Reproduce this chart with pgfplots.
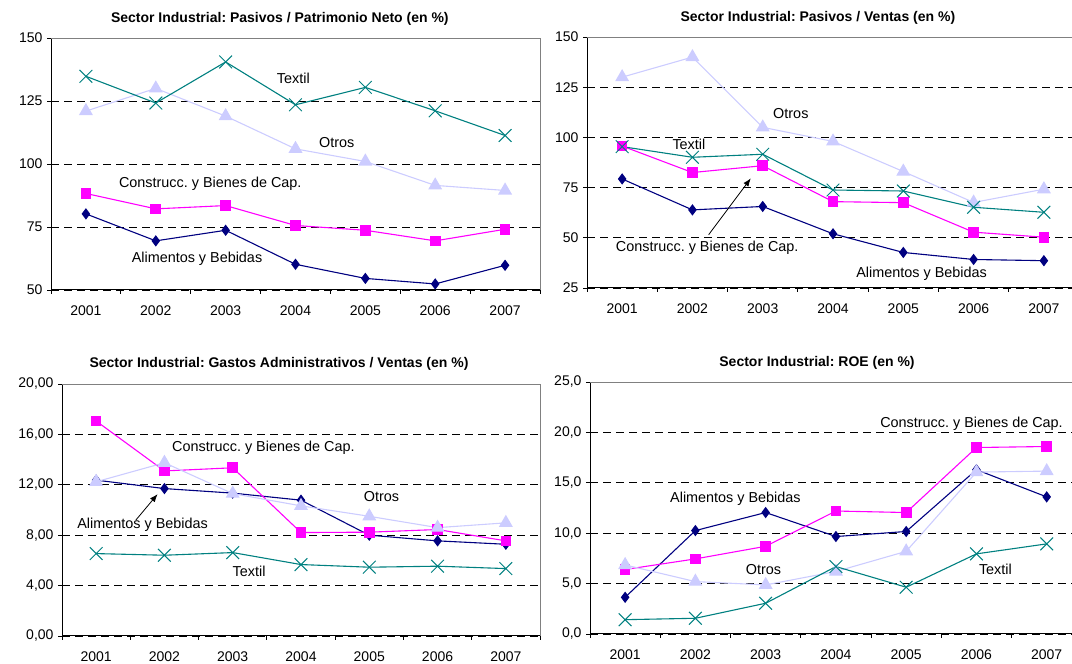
\documentclass[border=0pt]{standalone}
\usepackage{fontspec}
\setmainfont{Liberation Sans}
\usepackage{pgfplots}
\pgfplotsset{compat=1.18}
\usetikzlibrary{arrows.meta}
\frenchspacing
\definecolor{alimc}{RGB}{0,0,128}
\definecolor{consc}{RGB}{255,0,255}
\definecolor{otrosc}{RGB}{204,204,255}
\definecolor{textilc}{RGB}{0,128,128}
\tikzset{lab/.style={font=\fontsize{14.4}{16}\selectfont, text=black}}
\pgfplotsset{
 panel/.style={
  scale only axis, anchor=south west,
  xmin=0.5, xmax=7.5,
  xtick={1,...,7}, xticklabels={2001,2002,2003,2004,2005,2006,2007},
  minor xtick={0.5,1.5,...,7.5},
  major tick length=0pt, minor tick length=4pt,
  tick align=outside,
  axis x line*=bottom, axis y line*=left,
  axis line style={-, black, line width=1pt},
  minor tick style={black, line width=0.8pt},
  ymajorgrids, grid style={black, line width=0.8pt, dash pattern=on 8pt off 5pt},
  tick label style={font=\fontsize{14}{16}\selectfont},
  xticklabel style={yshift=-12pt},
  yticklabel style={xshift=-5pt},
  /pgf/number format/assume math mode=true,
  title style={font=\bfseries\fontsize{14}{16}\selectfont, anchor=center},
  every axis plot/.append style={line width=1.1pt},
  clip=false,
 },
 alim/.style={color=alimc, mark=diamond*, mark size=4.8pt},
 cons/.style={color=consc, mark=square*, mark size=4.8pt},
 otros/.style={color=otrosc, mark=triangle*, mark size=7pt},
 textil/.style={color=textilc, mark=x, mark size=9pt, mark options={line width=1pt}},
}
\begin{document}
\begin{tikzpicture}
\useasboundingbox (0,0) rectangle (1072pt,664pt);
% Panel 1
\begin{axis}[panel, at={(51pt,374pt)}, width=489pt, height=252pt,
  ymin=50, ymax=150, ytick={50,75,...,150}, minor ytick={50,75,...,150},
  title={Sector Industrial: Pasivos / Patrimonio Neto (en \%)},
  title style={at={(0.468,1)}, yshift=13pt}]
\draw[gray, line width=0.8pt] (rel axis cs:0,1) -- (rel axis cs:1,1) -- (rel axis cs:1,0);
\addplot[alim] table {
x y
1 80.2
2 69.5
3 73.7
4 60.2
5 54.6
6 52.4
7 59.8
};
\addplot[cons] table {
x y
1 88.3
2 82.2
3 83.5
4 75.6
5 73.7
6 69.5
7 74.1
};
\addplot[otros] table {
x y
1 121
2 130
3 119
4 106
5 101
6 91.5
7 89.5
};
\addplot[textil] table {
x y
1 134.8
2 124.2
3 140.5
4 123.5
5 130.4
6 121.1
7 111.3
};
\node[lab] at (axis cs:3.97,134) {Textil};
\node[lab] at (axis cs:4.59,108.7) {Otros};
\node[lab] at (axis cs:2.78,92.1) {Construcc. y Bienes de Cap.};
\node[lab] at (axis cs:2.59,62.3) {Alimentos y Bebidas};
\end{axis}
% Panel 2
\begin{axis}[panel, at={(587pt,376pt)}, width=485pt, height=251pt,
  xmax=7.40,
  ymin=25, ymax=150, ytick={25,50,...,150}, minor ytick={25,50,...,150},
  title={Sector Industrial: Pasivos / Ventas (en \%)},
  title style={at={(0.476,1)}, yshift=13pt}]
\draw[gray, line width=0.8pt] (rel axis cs:0,1) -- (rel axis cs:1,1);
\addplot[alim] table {
x y
1 79.3
2 63.9
3 65.6
4 52.0
5 42.7
6 39.2
7 38.6
};
\addplot[cons] table {
x y
1 95.7
2 82.5
3 85.9
4 68.0
5 67.5
6 52.8
7 50.3
};
\addplot[otros] table {
x y
1 130
2 140
3 105
4 98
5 83
6 67.6
7 74.2
};
\addplot[textil] table {
x y
1 95.4
2 90.1
3 91.6
4 73.8
5 73.3
6 65.2
7 62.7
};
\node[lab] at (axis cs:3.40,111.9) {Otros};
\node[lab] at (axis cs:1.95,96.7) {Textil};
\node[lab] at (axis cs:2.21,44.9) {Construcc. y Bienes de Cap.};
\draw[-{Latex[length=8pt,width=6pt]}, black, line width=0.8pt] (axis cs:2.23,51.5) -- (axis cs:2.83,79.6);
\node[lab] at (axis cs:5.26,32.1) {Alimentos y Bebidas};
\end{axis}
% Panel 3
\begin{axis}[panel, at={(62pt,28pt)}, width=478pt, height=252pt,
  ymin=0, ymax=20, ytick={0,4,...,20}, minor ytick={0,4,...,20},
  yticklabel style={/pgf/number format/.cd, fixed, fixed zerofill, precision=2, use comma},
  title={Sector Industrial: Gastos Administrativos / Ventas (en \%)},
  title style={at={(0.454,1)}, yshift=14pt}]
\draw[gray, line width=0.8pt] (rel axis cs:0,1) -- (rel axis cs:1,1) -- (rel axis cs:1,0);
\addplot[alim] table {
x y
1 12.37
2 11.70
3 11.34
4 10.78
5 8.00
6 7.55
7 7.28
};
\addplot[cons] table {
x y
1 17.06
2 13.10
3 13.35
4 8.21
5 8.24
6 8.45
7 7.55
};
\addplot[otros] table {
x y
1 12.24
2 13.75
3 11.30
4 10.33
5 9.50
6 8.60
7 8.98
};
\addplot[textil] table {
x y
1 6.54
2 6.41
3 6.62
4 5.67
5 5.46
6 5.54
7 5.35
};
\node[lab] at (axis cs:3.45,14.9) {Construcc. y Bienes de Cap.};
\node[lab] at (axis cs:5.18,11.05) {Otros};
\node[lab] at (axis cs:1.68,8.8) {Alimentos y Bebidas};
\draw[-{Latex[length=8pt,width=6pt]}, black, line width=0.8pt] (axis cs:1.58,9.19) -- (axis cs:1.90,11.26);
\node[lab] at (axis cs:3.24,5.17) {Textil};
\end{axis}
% Panel 4
\begin{axis}[panel, at={(590pt,30pt)}, width=482pt, height=252pt,
  xmax=7.36,
  ymin=0, ymax=25, ytick={0,5,...,25}, minor ytick={0,5,...,25},
  yticklabel style={/pgf/number format/.cd, fixed, fixed zerofill, precision=1, use comma},
  title={Sector Industrial: ROE (en \%)},
  title style={at={(0.471,1)}, yshift=13pt}]
\draw[gray, line width=0.8pt] (rel axis cs:0,1) -- (rel axis cs:1,1);
\addplot[alim] table {
x y
1 3.64
2 10.26
3 12.05
4 9.67
5 10.17
6 16.3
7 13.6
};
\addplot[cons] table {
x y
1 6.4
2 7.45
3 8.7
4 12.2
5 12.05
6 18.5
7 18.6
};
\addplot[otros] table {
x y
1 6.85
2 5.2
3 4.87
4 6.2
5 8.2
6 16.06
7 16.16
};
\addplot[textil] table {
x y
1 1.42
2 1.56
3 3.05
4 6.69
5 4.64
6 7.95
7 8.94
};
\node[lab] at (axis cs:5.93,20.86) {Construcc. y Bienes de Cap.};
\node[lab] at (axis cs:2.57,13.4) {Alimentos y Bebidas};
\node[lab] at (axis cs:2.97,6.36) {Otros};
\node[lab] at (axis cs:6.27,6.46) {Textil};
\end{axis}
\end{tikzpicture}
\end{document}
